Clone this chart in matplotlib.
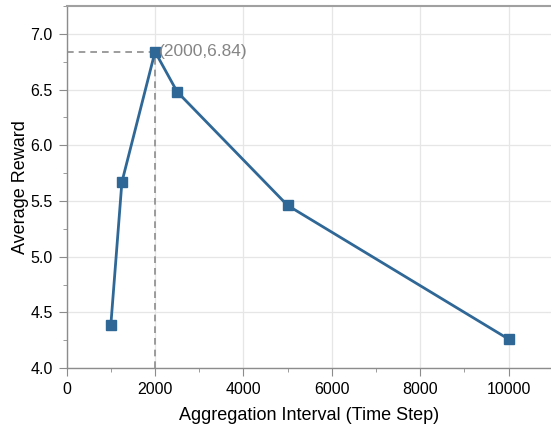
import matplotlib
matplotlib.use("Agg")
import matplotlib.pyplot as plt
from matplotlib.ticker import MultipleLocator

plt.rcParams['font.family'] = ['Liberation Sans', 'DejaVu Sans']

intervals = [1000, 1250, 2000, 2500, 5000, 10000]
rewards = [4.39, 5.67, 6.84, 6.48, 5.46, 4.26]
best_x, best_y = 2000, 6.84

fig = plt.figure(figsize=(5.51, 4.29), dpi=100)
ax = fig.add_axes([0.121, 0.142, 0.879, 0.844])

line_color = '#2f6796'
gray = '#8c8c8c'

ax.plot(intervals, rewards, color=line_color, lw=2, marker='s', ms=6.5, zorder=3)
ax.plot([0, best_x], [best_y, best_y], ls=(0, (4, 3)), color=gray, lw=1.2, zorder=2)
ax.plot([best_x, best_x], [4.0, best_y], ls=(0, (4, 3)), color=gray, lw=1.2, zorder=2)
ax.annotate(f"({best_x},{best_y})", (best_x, best_y), xytext=(2.5, 0), textcoords='offset points',
            color='#858585', fontsize=12.5, va='center', ha='left')

ax.set_xlim(0, 10960)
ax.set_ylim(4.0, 7.25)
ax.xaxis.set_major_locator(MultipleLocator(2000))
ax.xaxis.set_minor_locator(MultipleLocator(1000))
ax.yaxis.set_major_locator(MultipleLocator(0.5))
ax.yaxis.set_minor_locator(MultipleLocator(0.25))
ax.yaxis.set_major_formatter(matplotlib.ticker.FormatStrFormatter('%.1f'))

ax.grid(True, which='major', color='#e6e6e6', lw=0.9)
ax.set_axisbelow(True)

for s in ['left', 'bottom']:
    ax.spines[s].set_color(gray)
    ax.spines[s].set_linewidth(1.0)
ax.spines['top'].set_color('#a0a0a0')
ax.spines['top'].set_linewidth(1.5)
ax.spines['right'].set_visible(False)

ax.tick_params(which='major', length=6, color=gray, labelsize=11.5, labelcolor='black', pad=4)
ax.tick_params(which='minor', length=3, color=gray)

ax.set_xlabel('Aggregation Interval (Time Step)', fontsize=13, labelpad=7)
ax.set_ylabel('Average Reward', fontsize=13, labelpad=1)

fig.savefig('out.png', dpi=100)
